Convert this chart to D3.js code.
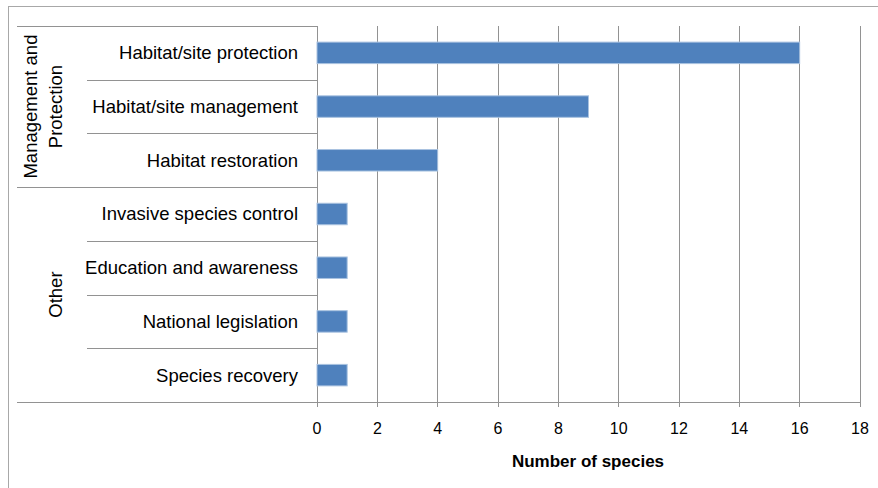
<!DOCTYPE html>
<html>
<head>
<meta charset="utf-8">
<script src="https://cdn.jsdelivr.net/npm/d3@7"></script>
<style>
  html, body { margin: 0; padding: 0; background: #fff; }
  svg { display: block; font-family: "Liberation Sans", Arial, sans-serif; }
</style>
</head>
<body>
<svg id="chart" width="878" height="488"></svg>
<script>
// Conservation actions and the number of species benefiting from each
const categories = [
  "Habitat/site protection",
  "Habitat/site management",
  "Habitat restoration",
  "Invasive species control",
  "Education and awareness",
  "National legislation",
  "Species recovery"
];
const values = [16, 9, 4, 1, 1, 1, 1];
const groupNames = ["Management and Protection", "Other"];
const groupLabelLines = [["Management and", "Protection"], ["Other"]];
const groupSizes = [3, 4];
const xTicks = [0, 2, 4, 6, 8, 10, 12, 14, 16, 18];
const xTitle = "Number of species";

const svg = d3.select("#chart");
const plot = { left: 316.5, right: 859.5, top: 26, bottom: 402 };
const lineColor = "#929292";

// outer frame (cut at the right and bottom edges of the page)
svg.append("rect")
  .attr("x", 8.5).attr("y", 6.5)
  .attr("width", 900).attr("height", 500)
  .attr("fill", "none").attr("stroke", "#a8a8a8").attr("stroke-width", 1);

const x = d3.scaleLinear().domain([0, 18]).range([plot.left, plot.right]);
const y = d3.scaleBand()
  .domain(categories)
  .range([plot.top, plot.bottom])
  .paddingInner(0.6)
  .paddingOuter(0.3);
const step = y.step();
const rowTop = i => plot.top + i * step;

// vertical gridlines with small ticks below the axis
svg.append("g").selectAll("line")
  .data(xTicks)
  .join("line")
  .attr("x1", d => Math.round(x(d)) + 0.5).attr("x2", d => Math.round(x(d)) + 0.5)
  .attr("y1", plot.top).attr("y2", plot.bottom + 5)
  .attr("stroke", lineColor).attr("stroke-width", 1);

// bars
svg.append("g").selectAll("rect")
  .data(categories)
  .join("rect")
  .attr("x", x(0) + 0.5)
  .attr("y", d => y(d))
  .attr("width", (d, i) => x(values[i]) - x(0))
  .attr("height", y.bandwidth())
  .attr("fill", "#4f81bd")
  .attr("stroke", "#a9c2e0").attr("stroke-width", 1);

// bottom axis labels
const axis = d3.axisBottom(x).tickValues(xTicks).tickSize(0).tickPadding(0);
const axisG = svg.append("g")
  .attr("transform", `translate(0,${plot.bottom})`)
  .call(axis);
axisG.select(".domain").remove();
axisG.selectAll("text")
  .attr("y", 32).attr("dy", 0)
  .attr("font-size", 16)
  .attr("font-family", "Liberation Sans, Arial, sans-serif")
  .attr("fill", "#000");

// horizontal axis line across the category column and plot
svg.append("line")
  .attr("x1", 17).attr("x2", Math.round(x(18)) + 1)
  .attr("y1", plot.bottom + 0.5).attr("y2", plot.bottom + 0.5)
  .attr("stroke", lineColor);

// category separators (short) and group separators (long)
const groupStarts = [];
let acc = 0;
groupSizes.forEach(n => { groupStarts.push(acc); acc += n; });
const boundaries = d3.range(categories.length + 1);
svg.append("g").selectAll("line")
  .data(boundaries)
  .join("line")
  .attr("x1", i => (groupStarts.includes(i) || i === categories.length) ? 17 : 87)
  .attr("x2", Math.round(plot.left) + 0.5)
  .attr("y1", i => Math.round(rowTop(i)) + 0.5)
  .attr("y2", i => Math.round(rowTop(i)) + 0.5)
  .attr("stroke", lineColor);

// category labels
svg.append("g").selectAll("text")
  .data(categories)
  .join("text")
  .attr("x", 298)
  .attr("y", d => y(d) + y.bandwidth() / 2)
  .attr("dy", "0.35em")
  .attr("text-anchor", "end")
  .attr("font-size", 18.5)
  .attr("fill", "#000")
  .text(d => d);

// rotated group labels
groupNames.forEach((g, gi) => {
  const start = groupStarts[gi];
  const cy = rowTop(start) + groupSizes[gi] * step / 2;
  const lines = groupLabelLines[gi];
  const baseX = lines.length > 1 ? 37 : 62;
  const t = svg.append("text")
    .attr("transform", `translate(${baseX},${cy}) rotate(-90)`)
    .attr("text-anchor", "middle")
    .attr("font-size", 18.5)
    .attr("fill", "#000");
  lines.forEach((ln, li) => {
    t.append("tspan").attr("x", 0).attr("y", li * 25).text(ln);
  });
});

// axis title
svg.append("text")
  .attr("x", (plot.left + plot.right) / 2)
  .attr("y", 467)
  .attr("text-anchor", "middle")
  .attr("font-size", 17)
  .attr("font-weight", "bold")
  .attr("fill", "#000")
  .text(xTitle);
</script>
</body>
</html>
